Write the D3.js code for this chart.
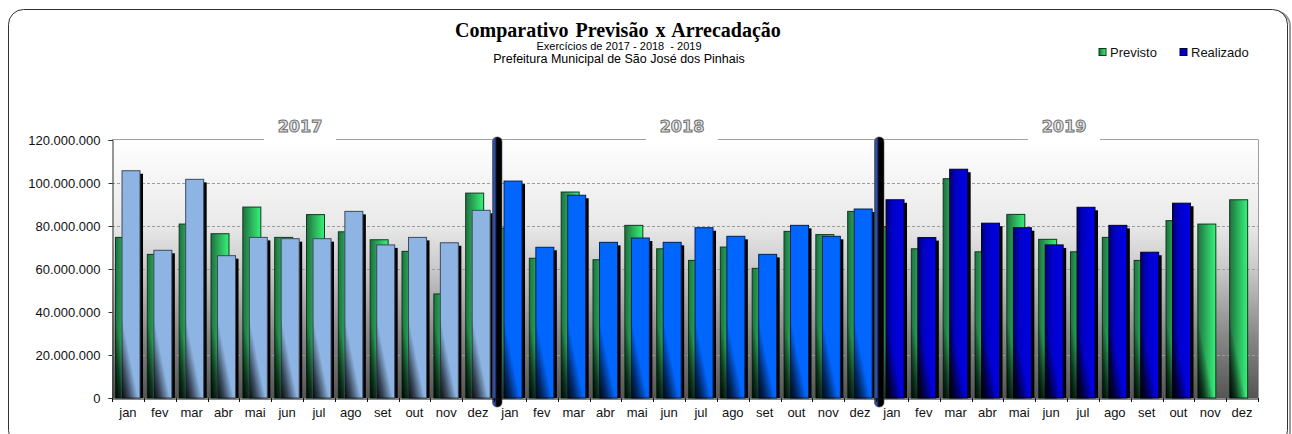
<!DOCTYPE html>
<html>
<head>
<meta charset="utf-8">
<script src="https://cdn.jsdelivr.net/npm/d3@7"></script>
<style>
  html, body { margin: 0; padding: 0; background: #fff; }
  svg { display: block; }
</style>
</head>
<body>
<svg id="chart" width="1292" height="434"></svg>
<script>
const months = ["jan", "fev", "mar", "abr", "mai", "jun", "jul", "ago", "set", "out", "nov", "dez"];
const years = ["2017", "2018", "2019"];
const yTicks = [0, 20000000, 40000000, 60000000, 80000000, 100000000, 120000000];

const previsto2017 = [74700000, 66800000, 80900000, 76400000, 88800000, 74700000, 85300000, 77300000, 73600000, 68200000, 48400000, 95300000];
const realizado2017 = [105700000, 68700000, 101700000, 66200000, 74700000, 74100000, 74100000, 86800000, 71200000, 74700000, 72200000, 87300000];
const previsto2018 = [79000000, 65000000, 95800000, 64300000, 80300000, 69400000, 64000000, 70200000, 60300000, 77500000, 76000000, 86800000];
const realizado2018 = [100900000, 70100000, 94300000, 72400000, 74400000, 72400000, 79200000, 75200000, 66800000, 80300000, 75200000, 87900000];
const previsto2019 = [79700000, 69400000, 102000000, 68000000, 85400000, 73800000, 68000000, 74700000, 64000000, 82500000, 80900000, 92200000];
const realizado2019 = [92200000, 74600000, 106400000, 81300000, 79200000, 71200000, 88700000, 80300000, 67800000, 90600000, null, null];

const previsto = [previsto2017, previsto2018, previsto2019];
const realizado = [realizado2017, realizado2018, realizado2019];

// flatten to one row per month/year
const rows = [];
years.forEach((yr, yi) => {
    months.forEach((m, mi) => {
        rows.push({
            key: yr + "-" + m,
            month: m,
            year: yi,
            previsto: previsto[yi][mi],
            realizado: realizado[yi][mi]
        });
    });
});

const svg = d3.select("#chart");
const defs = svg.append("defs");

const plotL = 112, plotR = 1258, plotT = 140, plotB = 398;

const x = d3.scaleBand()
    .domain(rows.map(d => d.key))
    .range([plotL, plotR])
    .padding(0);

const y = d3.scaleLinear()
    .domain([0, 120000000])
    .range([plotB, plotT]);

const bw = x.bandwidth();
const fmt = v => v === 0 ? "0" : d3.format(",")(v).replace(/,/g, ".");

// gradients
function linear(id, x1, y1, x2, y2, stops) {
    const g = defs.append("linearGradient")
        .attr("id", id)
        .attr("x1", x1).attr("y1", y1).attr("x2", x2).attr("y2", y2);
    stops.forEach(s => g.append("stop")
        .attr("offset", s[0])
        .attr("stop-color", s[1])
        .attr("stop-opacity", s[2] === undefined ? 1 : s[2]));
}
linear("bg", 0, 0, 0, 1, [[0, "#ffffff"], [0.33, "#e9e9e9"], [0.5, "#c9c9c9"], [0.75, "#8a8a8a"], [1, "#555555"]]);
linear("green", 0, 0, 1, 0, [[0, "#1f7040"], [0.5, "#2cb55c"], [1, "#36f27b"]]);
linear("blue19", 0, 0, 1, 0, [[0, "#000070"], [0.35, "#0000c8"], [1, "#0000e6"]]);
linear("shade", 1, 0, 0, 1, [[0, "#000", 0], [0.55, "#000", 0], [0.8, "#000", 0.6], [1, "#000", 0.95]]);
linear("sep", 0, 0, 1, 0, [[0, "#1a1a1a"], [0.15, "#3a5fd0"], [0.35, "#1a2a60"], [0.45, "#000"], [1, "#000"]]);

const blueFill = ["#8db4e2", "#0066ff", "url(#blue19)"];
const blueStroke = ["#3c4b5e", "#002255", "#000022"];

// outer frame
svg.append("rect")
    .attr("x", 10).attr("y", 11)
    .attr("width", 1280).attr("height", 436)
    .attr("rx", 15)
    .attr("fill", "none")
    .attr("stroke", "#9a9a9a")
    .attr("stroke-width", 2);
svg.append("rect")
    .attr("x", 8.5).attr("y", 9.5)
    .attr("width", 1279).attr("height", 436)
    .attr("rx", 15)
    .attr("fill", "#fff")
    .attr("stroke", "#333")
    .attr("stroke-width", 1);

// titles
svg.append("text")
    .attr("x", 618).attr("y", 37)
    .attr("text-anchor", "middle")
    .attr("font-family", "Liberation Serif, Times New Roman, serif")
    .attr("font-weight", "bold")
    .attr("font-size", 20)
    .attr("word-spacing", 2)
    .text("Comparativo Previsão x Arrecadação");

svg.append("text")
    .attr("x", 619).attr("y", 50)
    .attr("text-anchor", "middle")
    .attr("font-family", "Liberation Sans, Arial, sans-serif")
    .attr("font-size", 11)
    .attr("xml:space", "preserve")
    .text("Exercícios de 2017 - 2018  - 2019");

svg.append("text")
    .attr("x", 619).attr("y", 63)
    .attr("text-anchor", "middle")
    .attr("font-family", "Liberation Sans, Arial, sans-serif")
    .attr("font-size", 12.5)
    .text("Prefeitura Municipal de São José dos Pinhais");

// legend
const legend = [
    { label: "Previsto", fill: "url(#green)", stroke: "#0b3b1c", x: 1099 },
    { label: "Realizado", fill: "#0000cc", stroke: "#000033", x: 1180 }
];
legend.forEach(l => {
    svg.append("rect")
        .attr("x", l.x).attr("y", 48.5)
        .attr("width", 7).attr("height", 7)
        .attr("fill", l.fill)
        .attr("stroke", l.stroke);
    svg.append("text")
        .attr("x", l.x + 11).attr("y", 57)
        .attr("font-family", "Liberation Sans, Arial, sans-serif")
        .attr("font-size", 13)
        .attr("fill", "#111")
        .text(l.label);
});

// plot background
svg.append("rect")
    .attr("x", plotL).attr("y", plotT)
    .attr("width", plotR - plotL).attr("height", plotB - plotT)
    .attr("fill", "url(#bg)");

// gridlines
svg.append("g")
    .selectAll("line")
    .data(yTicks.filter(t => t > 0 && t < 120000000))
    .join("line")
    .attr("x1", plotL).attr("x2", plotR)
    .attr("y1", d => Math.round(y(d)) + 0.5)
    .attr("y2", d => Math.round(y(d)) + 0.5)
    .attr("stroke", "#9c9c9c")
    .attr("stroke-dasharray", "3,2");

// top frame line, broken around year labels
const yearCenter = yi => (x(years[yi] + "-jan") + x(years[yi] + "-dez") + bw) / 2 - 3;
const topY = Math.round(y(120000000)) - 0.5;
years.forEach((yr, yi) => {
    const x0 = x(yr + "-jan"), x1 = x(yr + "-dez") + bw, c = yearCenter(yi);
    [[x0, c - 36], [c + 36, x1]].forEach(seg => {
        svg.append("line")
            .attr("x1", seg[0]).attr("x2", seg[1])
            .attr("y1", topY).attr("y2", topY)
            .attr("stroke", "#a0a0a0");
    });
});
svg.append("line")
    .attr("x1", plotR + 0.5).attr("x2", plotR + 0.5)
    .attr("y1", topY).attr("y2", plotB)
    .attr("stroke", "#a0a0a0");

// bars
const gx = d => x(d.key) + bw * 0.11;
const rx = d => x(d.key) + bw * 0.315;
const barW = bw * 0.565;

const bars = svg.append("g");

rows.forEach(d => {
    const g = bars.append("g");
    if (d.previsto != null) {
        g.append("rect")
            .attr("x", gx(d)).attr("y", y(d.previsto))
            .attr("width", barW).attr("height", plotB - y(d.previsto))
            .attr("fill", "url(#green)")
            .attr("stroke", "#0f3a1e")
            .attr("stroke-width", 1);
        const sh = Math.min(plotB - y(d.previsto), 90);
        g.append("rect")
            .attr("x", gx(d)).attr("y", plotB - sh)
            .attr("width", barW).attr("height", sh)
            .attr("fill", "url(#shade)");
    }
    if (d.realizado != null) {
        g.append("rect")
            .attr("x", rx(d) + 3).attr("y", y(d.realizado) + 3)
            .attr("width", barW).attr("height", plotB - y(d.realizado) - 3)
            .attr("fill", "#000");
        g.append("rect")
            .attr("x", rx(d)).attr("y", y(d.realizado))
            .attr("width", barW).attr("height", plotB - y(d.realizado))
            .attr("fill", blueFill[d.year])
            .attr("stroke", blueStroke[d.year])
            .attr("stroke-width", 1);
        const sh = Math.min(plotB - y(d.realizado), 90);
        g.append("rect")
            .attr("x", rx(d)).attr("y", plotB - sh)
            .attr("width", barW).attr("height", sh)
            .attr("fill", "url(#shade)");
    }
});

// year separators
[1, 2].forEach(yi => {
    const bx = x(years[yi] + "-jan");
    svg.append("rect")
        .attr("x", bx - 1.5).attr("y", plotT - 3)
        .attr("width", 9.5).attr("height", 270)
        .attr("rx", 4.5)
        .attr("fill", "url(#sep)")
        .attr("stroke", "#555")
        .attr("stroke-width", 0.6);
});

// axes
const yAxis = svg.append("g")
    .attr("transform", `translate(${plotL + 0.5},0)`)
    .call(d3.axisLeft(y).tickValues(yTicks).tickFormat(fmt).tickSizeOuter(0).tickSize(4).tickPadding(8));
yAxis.select(".domain").attr("stroke", "#333");
yAxis.selectAll(".tick line").attr("stroke", "#333");
yAxis.selectAll("text")
    .attr("font-family", "Liberation Sans, Arial, sans-serif")
    .attr("font-size", 13)
    .attr("fill", "#111");

const xAxis = svg.append("g")
    .attr("transform", `translate(0,${plotB + 0.5})`)
    .call(d3.axisBottom(x).tickFormat(k => k.split("-")[1]).tickSize(0).tickPadding(9));
xAxis.select(".domain").attr("stroke", "#111");
xAxis.selectAll("text")
    .attr("font-family", "Liberation Sans, Arial, sans-serif")
    .attr("font-size", 13)
    .attr("fill", "#111");

// ticks at category boundaries
svg.append("g")
    .selectAll("line")
    .data(rows.map(d => x(d.key)).concat([plotR]))
    .join("line")
    .attr("x1", d => Math.round(d) + 0.5).attr("x2", d => Math.round(d) + 0.5)
    .attr("y1", plotB).attr("y2", plotB + 4)
    .attr("stroke", "#111");

// year labels
years.forEach((yr, yi) => {
    svg.append("text")
        .attr("x", yearCenter(yi)).attr("y", 132)
        .attr("text-anchor", "middle")
        .attr("font-family", "DejaVu Sans, Verdana, sans-serif")
        .attr("font-weight", "bold")
        .attr("font-size", 16)
        .attr("fill", "#e6e6e6")
        .attr("stroke", "#6d6d6d")
        .attr("stroke-width", 1)
        .text(yr);
});
</script>
</body>
</html>
